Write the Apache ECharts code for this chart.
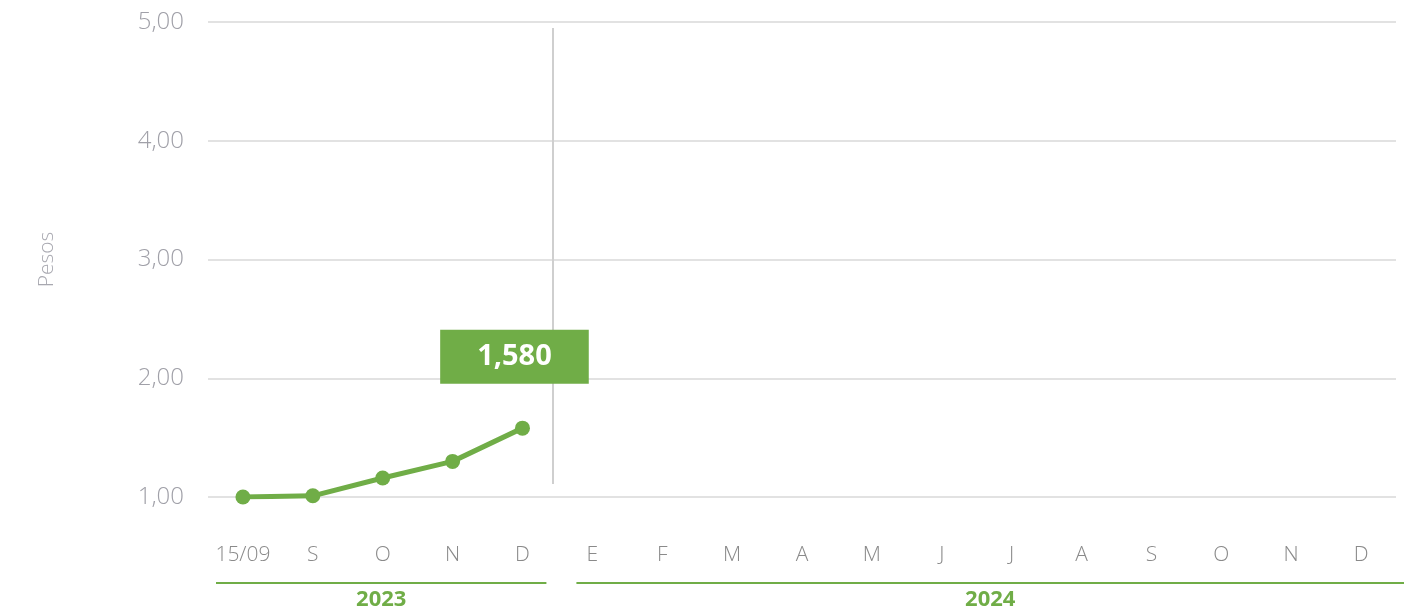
<!DOCTYPE html>
<html lang="es">

<head>
  <meta charset="utf-8">
  <title>Pesos 2023-2024</title>
  <script src="https://cdn.jsdelivr.net/npm/echarts@6/dist/echarts.min.js"></script>
  <style>
    html, body { margin: 0; padding: 0; background: #fff; }
    #main { width: 1404px; height: 610px; }
  </style>
</head>

<body>
  <div id="main"></div>

  <script>
    // etiquetas del eje x (meses)
    var categories = ['15/09', 'S', 'O', 'N', 'D', 'E', 'F', 'M', 'A', 'M', 'J', 'J', 'A', 'S', 'O', 'N', 'D'];
    // valores (pesos)
    var values = [1.00, 1.01, 1.16, 1.30, 1.58];
    // marcas del eje y
    var yTicks = [1, 2, 3, 4, 5];
    // años: nombre, primer y último índice de categoría
    var years = [
      { name: '2023', from: 0, to: 4 },
      { name: '2024', from: 5, to: 16 }
    ];

    var green = '#70ad47';
    var font = '"Open Sans", "Noto Sans", sans-serif';

    var myChart = echarts.init(document.getElementById('main'));

    var seriesData = values.map(function(v, i) {
      if (i === values.length - 1) {
        return {
          value: v,
          label: {
            show: true,
            position: 'top',
            distance: 37,
            offset: [-8, 0],
            formatter: function(p) { return p.value.toFixed(3).replace('.', ','); },
            color: '#fff',
            fontFamily: font,
            fontWeight: 'bold',
            fontSize: 29,
            lineHeight: 32,
            backgroundColor: green,
            padding: [11, 37, 11, 37]
          }
        };
      }
      return v;
    });

    var option = {
      animation: false,
      grid: { left: 208, right: 8, top: 22, bottom: 113 },
      xAxis: [{
        type: 'category',
        data: categories,
        boundaryGap: true,
        axisLine: { show: false },
        axisTick: { show: false },
        axisLabel: {
          margin: 48,
          color: '#8a8a8a',
          fontFamily: font,
          fontWeight: 300,
          fontSize: 21,
          interval: 0
        }
      }, {
        // eje auxiliar para la línea separadora
        type: 'value',
        min: -0.5,
        max: categories.length - 0.5,
        show: false
      }],
      yAxis: {
        type: 'value',
        min: yTicks[0],
        max: yTicks[yTicks.length - 1],
        interval: 1,
        name: 'Pesos',
        nameLocation: 'middle',
        nameGap: 150,
        nameRotate: 90,
        nameTextStyle: { color: '#a8a8b0', fontFamily: font, fontWeight: 300, fontSize: 21 },
        axisLine: { show: false },
        axisTick: { show: false },
        axisLabel: {
          margin: 24,
          color: '#a0a0a8',
          fontFamily: font,
          fontWeight: 300,
          fontSize: 24,
          formatter: function(v) { return v.toFixed(2).replace('.', ','); }
        },
        splitLine: { lineStyle: { color: '#d9d9d9', width: 1.5 } }
      },
      series: [{
        type: 'line',
        data: seriesData,
        symbol: 'circle',
        symbolSize: 15,
        itemStyle: { color: green },
        lineStyle: { color: green, width: 5 },
        z: 5
      }, {
        type: 'line',
        xAxisIndex: 1,
        data: [],
        z: 1,
        markLine: {
          silent: true,
          symbol: 'none',
          label: { show: false },
          lineStyle: { color: '#cfcfcf', width: 2, type: 'solid' },
          data: [[{ coord: [4.44, 1.11] }, { coord: [4.44, 4.95] }]]
        }
      }]
    };

    myChart.setOption(option);

    // subrayado y rótulo de cada año
    var graphics = [];
    years.forEach(function(y, k) {
      var x0 = myChart.convertToPixel({ xAxisIndex: 1 }, y.from - 0.5);
      var x1 = myChart.convertToPixel({ xAxisIndex: 1 }, y.to + 0.5);
      x0 += k === 0 ? 8 : 19;
      x1 -= k === 0 ? 11 : -8;
      graphics.push({
        type: 'line',
        shape: { x1: x0, y1: 583, x2: x1, y2: 583 },
        style: { stroke: green, lineWidth: 2 }
      });
      graphics.push({
        type: 'text',
        x: (x0 + x1) / 2,
        y: 600,
        style: {
          text: y.name,
          fill: green,
          font: 'bold 22px ' + font,
          align: 'center',
          verticalAlign: 'middle'
        }
      });
    });
    myChart.setOption({ graphic: graphics });
  </script>
</body>

</html>
